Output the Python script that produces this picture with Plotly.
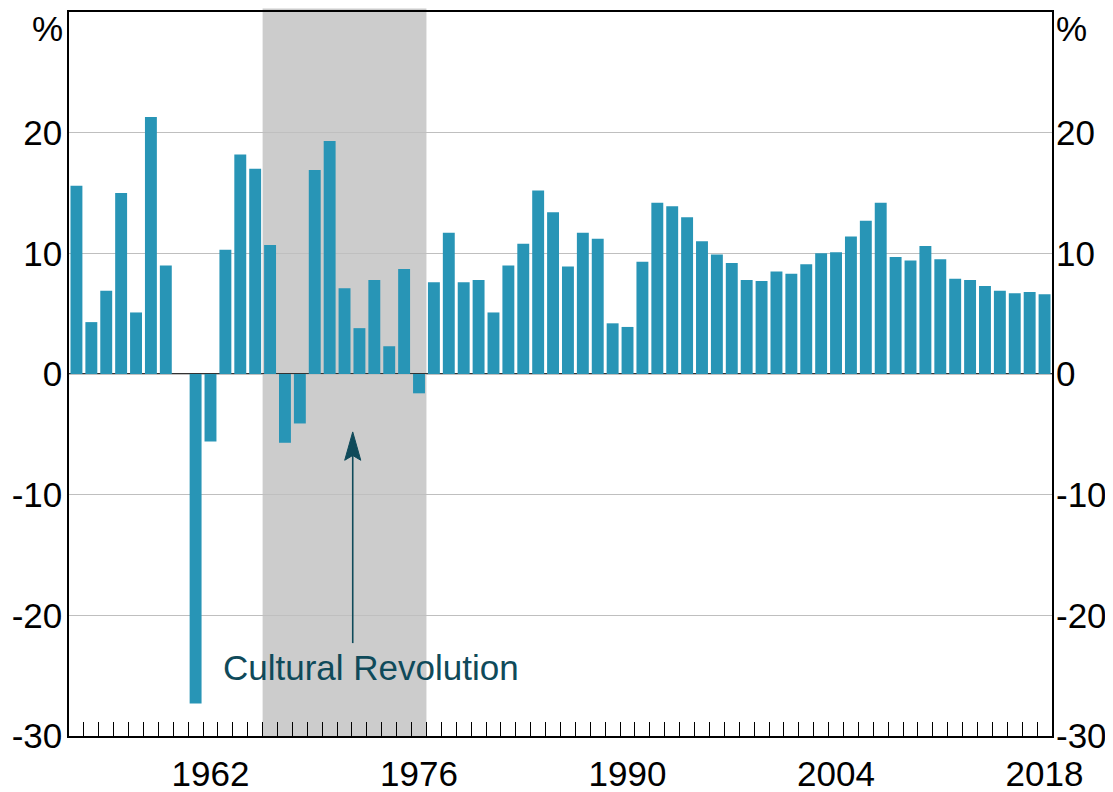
import plotly.graph_objects as go

years = list(range(1953, 2019))
growth = [15.6, 4.3, 6.9, 15.0, 5.1, 21.3, 9.0, 0.0, -27.3, -5.6,
          10.3, 18.2, 17.0, 10.7, -5.7, -4.1, 16.9, 19.3, 7.1, 3.8,
          7.8, 2.3, 8.7, -1.6, 7.6, 11.7, 7.6, 7.8, 5.1, 9.0,
          10.8, 15.2, 13.4, 8.9, 11.7, 11.2, 4.2, 3.9, 9.3, 14.2,
          13.9, 13.0, 11.0, 9.9, 9.2, 7.8, 7.7, 8.5, 8.3, 9.1,
          10.0, 10.1, 11.4, 12.7, 14.2, 9.7, 9.4, 10.6, 9.5, 7.9,
          7.8, 7.3, 6.9, 6.7, 6.8, 6.6]
xtick_years = [1962, 1976, 1990, 2004, 2018]
ytick_vals = [-30, -20, -10, 0, 10, 20]
ytick_text = ["-30", "-20", "-10", "0", "10", "20"]
shade_start, shade_end = 1966, 1976
arrow_x, arrow_tip_y, arrow_tail_y = 1971.55, -4.8, -22.3
label_x, label_y = 1972.8, -24.3
label_text = "Cultural Revolution"
unit_label = "%"

BAR = "#2895b6"
DARK = "#0f4a5a"
FONT = "Liberation Sans, Arial, sans-serif"
FS = 35

fig = go.Figure()
fig.add_trace(go.Bar(x=years, y=growth, marker=dict(color=BAR, line=dict(width=0)),
                     width=0.8, showlegend=False))
# invisible trace for right axis
fig.add_trace(go.Scatter(x=[years[0]], y=[0], yaxis="y2", mode="markers",
                         marker=dict(opacity=0), showlegend=False, hoverinfo="skip"))

boundaries = [y + 0.5 for y in years[:-1]]

# page body has an 8px margin; figure sized/offset to compensate
fig.update_layout(
    width=1105, height=784,
    margin=dict(l=61, r=61, t=4, b=56, autoexpand=False),
    plot_bgcolor="white", paper_bgcolor="white",
    font=dict(family=FONT, size=FS, color="black"),
    bargap=0.2,
    xaxis=dict(range=[years[0] - 0.5, years[-1] + 0.5], tickmode="array",
               tickvals=xtick_years, ticktext=[str(v) for v in xtick_years],
               ticks="", showgrid=False, zeroline=False, automargin=False,
               showline=True, linecolor="black", linewidth=1.5, mirror=True,
               ticklabelstandoff=6,
               minor=dict(tickmode="array", tickvals=boundaries, ticks="inside",
                          ticklen=14, tickwidth=1.3, tickcolor="black", showgrid=False)),
    yaxis=dict(range=[-30, 30], tickmode="array", tickvals=ytick_vals, ticktext=ytick_text,
               ticks="", showgrid=True, gridcolor="#bfbfbf", gridwidth=1.3, automargin=False,
               zeroline=False, showline=True, linecolor="black", linewidth=1.5,
               mirror=True, ticklabelstandoff=-2),
    yaxis2=dict(range=[-30, 30], tickmode="array", tickvals=ytick_vals, ticktext=ytick_text,
                overlaying="y", side="right", ticks="", showgrid=False, zeroline=False,
                automargin=False, showline=False, ticklabelstandoff=3),
)

fig.add_shape(type="rect", xref="x", yref="paper", x0=shade_start - 0.5, x1=shade_end + 0.5,
              y0=0, y1=1.005, fillcolor="#cccccc", line=dict(width=0), layer="between")
fig.add_shape(type="line", xref="paper", yref="y", x0=0, x1=1, y0=0, y1=0,
              line=dict(color="#333333", width=2), layer="between")

# arrow
fig.add_shape(type="line", xref="x", yref="y", x0=arrow_x, x1=arrow_x,
              y0=arrow_tail_y, y1=arrow_tip_y - 1.8, line=dict(color=DARK, width=1.6))
hw, hl, notch = 0.54, 2.35, 1.95
fig.add_shape(type="path", xref="x", yref="y",
              path=(f"M {arrow_x},{arrow_tip_y} L {arrow_x + hw},{arrow_tip_y - hl} "
                    f"L {arrow_x},{arrow_tip_y - notch} L {arrow_x - hw},{arrow_tip_y - hl} Z"),
              fillcolor=DARK, line=dict(color=DARK, width=1))

fig.add_annotation(x=label_x, y=label_y, xref="x", yref="y", text=label_text,
                   showarrow=False, font=dict(size=FS, color=DARK, family=FONT))
fig.add_annotation(x=0, y=1, xref="paper", yref="paper", text=unit_label, showarrow=False,
                   xanchor="right", yanchor="top", xshift=-5, yshift=4, borderpad=0,
                   font=dict(size=FS))
fig.add_annotation(x=1, y=1, xref="paper", yref="paper", text=unit_label, showarrow=False,
                   xanchor="left", yanchor="top", xshift=3, yshift=4, borderpad=0,
                   font=dict(size=FS))

fig.write_html("out.html")
